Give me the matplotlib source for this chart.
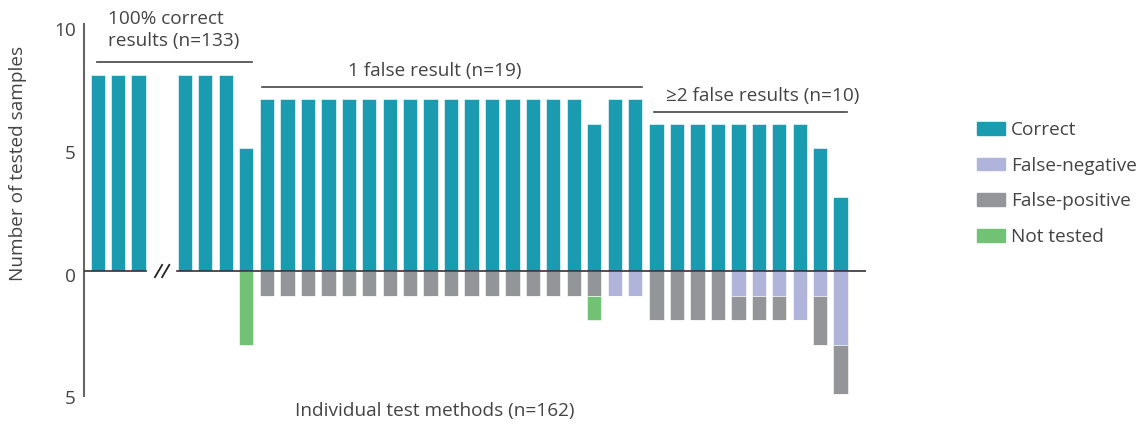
import matplotlib.pyplot as plt
import matplotlib.patches as mpatches
import matplotlib.transforms as mtransforms
import numpy as np

plt.rcParams.update(
    {
        "font.family": ["Open Sans", "DejaVu Sans"],
        "font.size": 13.7,
        "text.color": "#444444",
    }
)

# per-method results (one entry per bar shown)
correct = [8, 8, 8, 8, 8, 8, 5] + [7] * 16 + [6, 7, 7] + [6] * 8 + [5, 3]
false_neg = [0] * 7 + [0] * 16 + [0, 1, 1] + [0, 0, 0, 0, 1, 1, 1, 2, 1, 3]
false_pos = [0] * 7 + [1] * 16 + [1, 0, 0] + [2, 2, 2, 2, 1, 1, 1, 0, 2, 2]
not_tested = [0] * 6 + [3] + [0] * 16 + [1, 0, 0] + [0] * 10

group_sizes = [7, 19, 10]
group_labels = ["100% correct\nresults (n=133)", "1 false result (n=19)", "\u22652 false results (n=10)"]

legend_labels = ["Correct", "False-negative", "False-positive", "Not tested"]
yticks = [10, 5, 0, -5]
ytick_labels = ["10", "5", "0", "5"]

c_correct = "#1b9bb0"
c_fn = "#b1b4da"
c_fp = "#949598"
c_nt = "#72c275"

# layout: bar positions (break in first group, small gaps between groups)
x = list(np.arange(3.0)) + list(4.26 + np.arange(4.0))
x += list(8.28 + np.arange(19.0))
x += list(27.33 + np.arange(10.0))
x = np.array(x)

correct = np.array(correct)
false_neg = np.array(false_neg)
false_pos = np.array(false_pos)
not_tested = np.array(not_tested)

fig = plt.figure(figsize=(11.43, 4.26), dpi=100)
ax = fig.add_axes([84 / 1143, 1 - 396 / 426, (866 - 84) / 1143, (396 - 23.5) / 426])

w = 0.7
ec = dict(edgecolor="white", linewidth=0.4)
ax.bar(x, correct, w, color=c_correct, **ec)
ax.bar(x, -false_neg, w, color=c_fn, **ec)
ax.bar(x, -false_pos, w, bottom=-false_neg, color=c_fp, **ec)
ax.bar(x, -not_tested, w, bottom=-false_neg - false_pos, color=c_nt, **ec)

ax.set_xlim(-0.67, 37.57)
ax.set_ylim(-5.1, 10.1)

# zero line with a break
ax.plot([-0.67, 2.35], [0, 0], color="#333333", lw=1.2, zorder=3)
ax.plot([3.9, 37.57], [0, 0], color="#333333", lw=1.2, zorder=3)
for dx in (0, 0.35):
    ax.plot([2.8 + dx, 3.15 + dx], [-0.25, 0.25], color="#222222", lw=1.3, zorder=3, clip_on=False)

for s in ["top", "right", "bottom"]:
    ax.spines[s].set_visible(False)
ax.spines["left"].set_color("#666666")
ax.spines["left"].set_linewidth(1.5)
ax.set_xticks([])
ax.set_yticks(yticks)
ax.set_yticklabels(ytick_labels)
ax.tick_params(axis="y", length=0, pad=6, labelcolor="#444444", labelsize=13.7)
shift = mtransforms.ScaledTranslation(0, -3.5 / 100, fig.dpi_scale_trans)
for lab in ax.get_yticklabels():
    lab.set_transform(lab.get_transform() + shift)

ax.set_ylabel("Number of tested samples", color="#444444", fontsize=13.7)
ax.yaxis.set_label_coords(-0.073, 0.625)
ax.set_xlabel("Individual test methods (n=162)", color="#444444", fontsize=13.7)
ax.xaxis.set_label_coords(0.449, -0.016)
ax.xaxis.label.set_va("top")

# group brackets
line_y = [8.53, 7.51, 6.49]
line_x = [(-0.03, 7.55), (8.03, 26.62), (27.2, 36.64)]
text_xy = [(0.5, 9.82), (16.5, 8.16), (32.5, 7.14)]
for k in range(3):
    ax.plot(line_x[k], [line_y[k], line_y[k]], color="#444444", lw=1.2, clip_on=False)
    ax.text(text_xy[k][0], text_xy[k][1], group_labels[k],
            ha="left" if k == 0 else "center", va="center", linespacing=1.3)

handles = [mpatches.Patch(color=c) for c in [c_correct, c_fn, c_fp, c_nt]]
fig.legend(handles, legend_labels, loc="upper left", bbox_to_anchor=(977 / 1143, 1 - 121 / 426),
           frameon=False, handlelength=1.47, handleheight=0.63, labelspacing=0.93,
           handletextpad=0.32, borderpad=0, borderaxespad=0, fontsize=13.7,
           labelcolor="#444444")

plt.savefig("out.png", dpi=100)
